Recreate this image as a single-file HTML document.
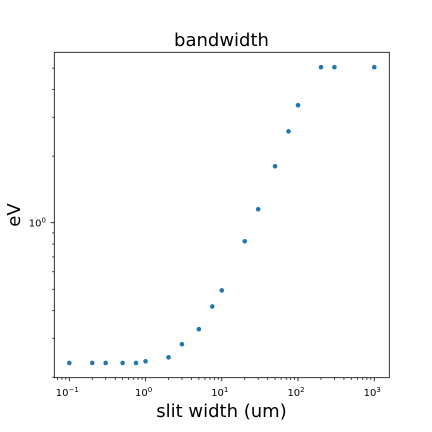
<!DOCTYPE html>
<html><head><meta charset="utf-8"><style>
html,body{margin:0;padding:0;background:#fff;width:432px;height:432px;overflow:hidden}
svg{display:block;font-family:"DejaVu Sans","Liberation Sans",sans-serif}
</style></head><body>
<svg id="chart" width="432" height="432" viewBox="0 0 432 432" xmlns="http://www.w3.org/2000/svg">
<rect width="432" height="432" fill="#fff"/>
<text x="221.5" y="46" font-size="18" text-anchor="middle" fill="#000">bandwidth</text>
<text x="221.5" y="417" font-size="18" text-anchor="middle" fill="#000">slit width (um)</text>
<text transform="translate(20,215) rotate(-90)" font-size="18" text-anchor="middle" fill="#000">eV</text>
<g id="ticks"></g>
<g id="points"></g>
<rect x="54.3" y="52.3" width="335" height="325.4" fill="none" stroke="#000" stroke-width="0.8"/>
</svg>
<script>
const slitWidth = [0.1,0.2,0.3,0.5,0.75,1,2,3,5,7.5,10,20,30,50,75,100,200,300,1000];
const bandwidthEV = [0.232,0.232,0.232,0.232,0.232,0.236,0.246,0.282,0.33,0.418,0.494,0.824,1.15,1.80,2.59,3.40,5.05,5.05,5.05];
const xMajorExp = [-1,0,1,2,3];
const xTickLabels = ["−1","0","1","2","3"];
const yMajorExp = [0];
const yTickLabels = ["0"];

const L=54.3,R=389.3,T=52.3,B=377.7;
const xmin=-1.197,xmax=3.197,ymin=Math.log10(0.199),ymax=Math.log10(5.9);
const xs=v=>L+(Math.log10(v)-xmin)/(xmax-xmin)*(R-L);
const ys=v=>B-(Math.log10(v)-ymin)/(ymax-ymin)*(B-T);
const NS="http://www.w3.org/2000/svg";
const tg=document.getElementById('ticks'), pg=document.getElementById('points');
function line(x1,y1,x2,y2,w){const l=document.createElementNS(NS,'line');l.setAttribute('x1',x1);l.setAttribute('y1',y1);l.setAttribute('x2',x2);l.setAttribute('y2',y2);l.setAttribute('stroke','#000');l.setAttribute('stroke-width',w);tg.appendChild(l);return l;}
for(let e=-2;e<=3;e++){for(let m=1;m<10;m++){const v=m*Math.pow(10,e);const x=xs(v);if(x<L||x>R)continue;
 const t=line(x,B,x,B+(m===1?3.5:2),0.8);
 
 }}
xMajorExp.forEach((e,i)=>{const x=xs(Math.pow(10,e));const t=document.createElementNS(NS,'text');
 t.setAttribute('x',x-2);t.setAttribute('y',396);t.setAttribute('font-size','10');t.setAttribute('text-anchor','middle');
 t.innerHTML='10<tspan dy="-4" font-size="7">'+xTickLabels[i]+'</tspan>';
 
 
 tg.appendChild(t);});
for(let e=-1;e<=0;e++){for(let m=1;m<10;m++){const v=m*Math.pow(10,e);const y=ys(v);if(y<T||y>B)continue;
 const t=line(L-(m===1?3.5:2),y,L,y,0.8);
 
 }}
yMajorExp.forEach((e,i)=>{const y=ys(Math.pow(10,e));const t=document.createElementNS(NS,'text');
 t.setAttribute('x',46);t.setAttribute('y',y+4);t.setAttribute('font-size','10');t.setAttribute('text-anchor','end');
 t.innerHTML='10<tspan dy="-4" font-size="7">'+yTickLabels[i]+'</tspan>';
 
 
 tg.appendChild(t);});
slitWidth.forEach((v,i)=>{const c=document.createElementNS(NS,'circle');
 c.setAttribute('cx',xs(v));c.setAttribute('cy',ys(bandwidthEV[i]));c.setAttribute('r',2.3);c.setAttribute('fill','#1f77b4');
 
 
 pg.appendChild(c);});
</script>
</body></html>
